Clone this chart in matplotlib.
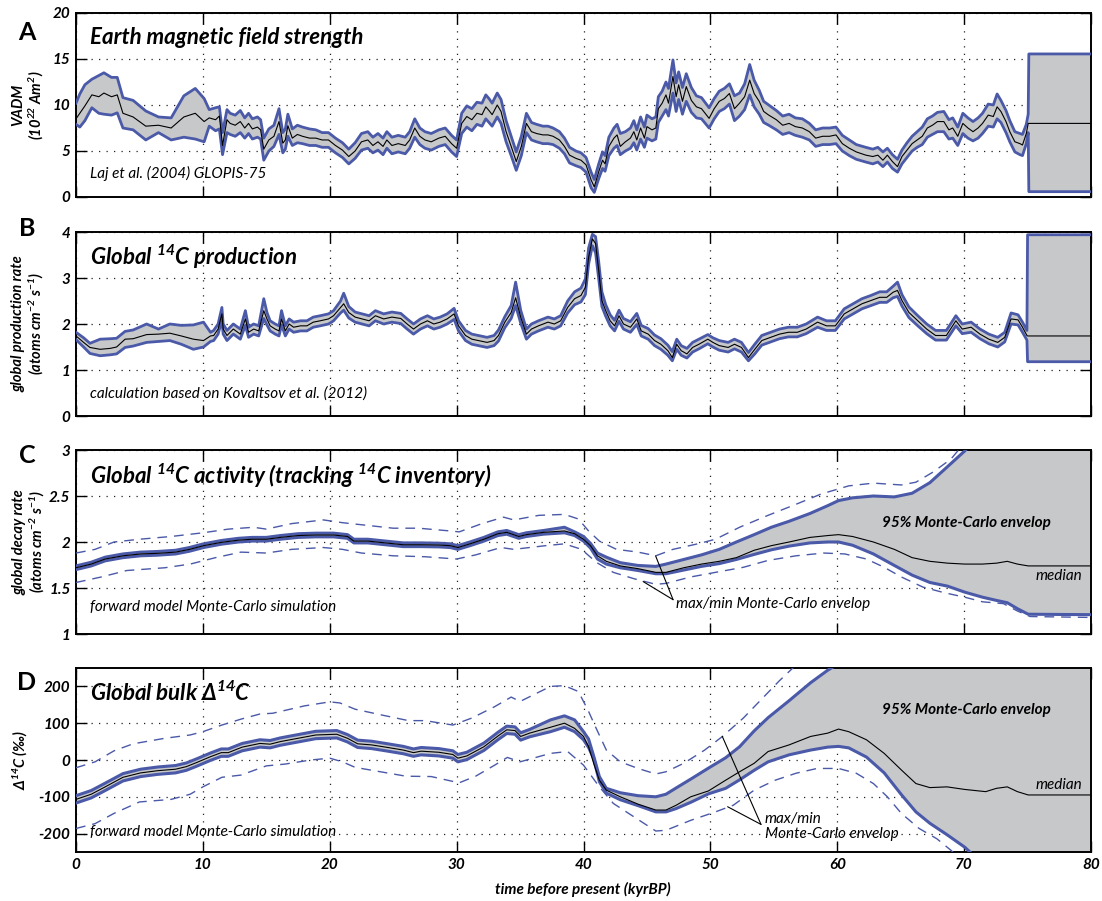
import matplotlib.pyplot as plt

plt.rcParams["font.family"] = ["Lato", "DejaVu Sans"]
plt.rcParams["mathtext.default"] = "regular"

BLUE = "#4a59a8"
GREY = "#c7c8ca"

# ---- A: VADM (Laj et al. 2004, GLOPIS-75)
vadm_t = [0.0, 0.3, 0.7, 1.25, 1.8, 2.2, 2.8, 3.25, 3.7, 4.5,
          5.5, 6.5, 7.5, 8.5, 9.4, 10.1, 10.5, 11.0, 11.3, 11.55,
          11.9, 12.15, 12.55, 12.95, 13.3, 13.6, 13.9, 14.3, 14.55, 14.8,
          15.2, 15.6, 16.0, 16.3, 16.5, 16.7, 17.05, 17.45, 17.85, 18.4,
          18.9, 19.4, 19.9, 20.45, 21.0, 21.5, 22.0, 22.5, 23.0, 23.4,
          23.8, 24.2, 24.5, 24.9, 25.4, 25.95, 26.3, 26.7, 27.1, 27.5,
          28.0, 28.6, 29.1, 29.6, 30.0, 30.4, 30.8, 31.2, 31.6, 32.0,
          32.3, 32.55, 32.8, 33.2, 33.5, 33.9, 34.3, 34.7, 35.1, 35.5,
          35.9, 36.3, 36.8, 37.2, 37.6, 38.1, 38.5, 38.9, 39.4, 39.8,
          40.2, 40.6, 40.85, 41.2, 41.5, 41.7, 42.0, 42.4, 42.65, 42.9,
          43.3, 43.7, 43.97, 44.2, 44.5, 44.8, 45.0, 45.4, 45.7, 45.9,
          46.2, 46.5, 46.7, 47.05, 47.3, 47.5, 47.8, 48.1, 48.5, 48.9,
          49.3, 49.9, 50.3, 50.7, 51.1, 51.5, 51.9, 52.3, 52.7, 53.1,
          53.45, 53.85, 54.2, 54.6, 55.2, 55.7, 56.2, 56.7, 57.25, 57.8,
          58.3, 58.85, 59.4, 59.9, 60.4, 60.95, 61.5, 62.25, 62.8, 63.2,
          63.6, 63.95, 64.35, 64.75, 65.1, 65.5, 65.9, 66.3, 66.7, 67.1,
          67.5, 67.9, 68.4, 68.8, 69.1, 69.5, 69.9, 70.3, 70.7, 71.1,
          71.45, 71.9, 72.3, 72.6, 72.9, 73.3, 73.6, 74.0, 74.4, 74.6,
          74.9, 75.05, 75.1, 80.0]
vadm_med = [8.5, 9.1, 9.9, 11.1, 10.9, 11.3, 10.9, 11.1, 9.1, 8.7,
            7.7, 7.8, 7.5, 8.7, 9.1, 8.2, 8.6, 8.4, 8.8, 5.6,
            8.4, 8.0, 7.8, 8.2, 7.5, 8.0, 7.4, 7.6, 7.3, 5.2,
            6.2, 6.6, 8.2, 5.85, 6.2, 7.75, 6.4, 6.8, 6.6, 6.4,
            6.4, 6.2, 6.2, 5.6, 5.1, 4.4, 5.0, 6.0, 6.2, 5.6,
            6.0, 5.5, 6.2, 5.6, 5.8, 5.6, 6.2, 7.5, 6.6, 6.2,
            6.0, 6.4, 6.6, 5.8, 5.3, 8.0, 8.75, 8.4, 9.1, 8.95,
            9.8, 9.4, 8.95, 10.0, 9.3, 7.1, 5.5, 3.85, 5.5, 8.0,
            7.1, 6.9, 6.75, 6.75, 6.6, 6.2, 5.5, 4.55, 4.2, 4.0,
            3.5, 1.85, 1.1, 2.75, 4.0, 3.6, 5.5, 6.4, 6.75, 5.5,
            6.0, 6.4, 7.1, 6.2, 7.5, 6.4, 7.65, 7.3, 7.5, 9.6,
            10.2, 11.1, 10.2, 13.1, 10.9, 12.2, 10.4, 12.0, 10.5, 9.8,
            9.6, 8.55, 9.6, 10.4, 10.7, 11.25, 9.6, 10.2, 10.9, 12.7,
            11.25, 10.4, 9.3, 8.9, 8.4, 7.8, 8.0, 7.65, 7.5, 7.1,
            6.4, 6.6, 6.6, 6.75, 5.8, 5.3, 4.9, 4.55, 4.4, 4.55,
            4.0, 4.55, 3.85, 3.3, 4.4, 5.1, 5.8, 6.2, 6.6, 7.5,
            7.8, 8.2, 8.2, 7.3, 7.5, 6.6, 8.0, 7.5, 7.1, 7.5,
            8.0, 8.9, 8.75, 9.8, 9.3, 8.2, 7.1, 6.0, 5.8, 5.65,
            6.9, 8.0, 8.0, 8.0]
vadm_lo = [7.9, 7.6, 8.3, 9.7, 9.1, 9.0, 8.9, 9.15, 7.5, 7.3,
           6.2, 7.0, 6.2, 6.5, 6.3, 6.0, 7.7, 7.2, 7.4, 4.6,
           7.0, 6.8, 6.6, 7.0, 6.4, 6.9, 6.3, 6.5, 6.3, 4.0,
           5.0, 5.5, 6.8, 4.8, 5.2, 6.6, 5.6, 5.9, 5.8, 5.6,
           5.6, 5.4, 5.4, 4.8, 4.3, 3.6, 4.2, 5.1, 5.3, 4.8,
           5.1, 4.6, 5.3, 4.7, 4.9, 4.7, 5.3, 6.5, 5.7, 5.3,
           5.1, 5.5, 5.7, 4.9, 4.4, 6.9, 7.6, 7.2, 7.9, 7.7,
           8.5, 8.1, 7.7, 8.7, 8.0, 6.0, 4.5, 2.9, 4.5, 7.0,
           6.2, 6.0, 5.8, 5.8, 5.7, 5.3, 4.7, 3.7, 3.4, 3.2,
           2.7, 1.0, 0.5, 2.0, 3.1, 2.8, 4.5, 5.3, 5.6, 4.6,
           5.0, 5.3, 5.9, 5.1, 6.3, 5.4, 6.4, 6.1, 6.3, 8.1,
           8.8, 9.5, 8.8, 11.3, 9.3, 10.6, 9.0, 10.4, 9.2, 8.6,
           8.5, 7.5, 8.5, 9.3, 9.6, 10.1, 8.3, 8.8, 9.5, 11.1,
           9.8, 9.0, 8.1, 7.8, 7.3, 6.8, 7.0, 6.7, 6.5, 6.2,
           5.5, 5.7, 5.7, 5.8, 5.0, 4.5, 4.1, 3.8, 3.6, 3.8,
           3.3, 3.8, 3.1, 2.7, 3.6, 4.3, 5.0, 5.4, 5.7, 6.5,
           6.8, 7.1, 7.1, 6.3, 6.4, 5.6, 6.9, 6.4, 6.1, 6.4,
           6.9, 7.7, 7.6, 8.5, 8.1, 7.0, 6.0, 4.9, 4.6, 4.5,
           5.8, 7.0, 0.58, 0.58]
vadm_hi = [10.2, 11.2, 12.2, 12.8, 13.2, 13.5, 13.0, 13.0, 10.8, 10.5,
           9.35, 8.7, 8.6, 11.0, 11.8, 10.7, 9.5, 9.7, 9.8, 7.0,
           9.5, 9.1, 8.9, 9.4, 8.6, 9.1, 8.5, 8.7, 8.4, 6.4,
           7.4, 7.8, 9.6, 7.0, 7.4, 9.0, 7.4, 7.8, 7.6, 7.4,
           7.3, 7.0, 7.0, 6.4, 5.9, 5.2, 5.9, 6.9, 7.1, 6.5,
           6.9, 6.4, 7.1, 6.5, 6.7, 6.5, 7.1, 8.5, 7.5, 7.1,
           6.9, 7.3, 7.5, 6.7, 6.2, 9.1, 9.9, 9.6, 10.3, 10.2,
           11.1, 10.7, 10.2, 11.3, 10.6, 8.3, 6.6, 4.9, 6.6, 9.1,
           8.1, 7.9, 7.7, 7.7, 7.5, 7.1, 6.4, 5.4, 5.0, 4.8,
           4.3, 2.7, 1.9, 3.6, 4.9, 4.5, 6.5, 7.5, 7.9, 6.9,
           7.1, 7.5, 8.3, 7.3, 8.7, 7.6, 8.9, 8.5, 8.7, 10.9,
           11.5, 12.5, 11.8, 14.9, 12.4, 13.6, 11.9, 13.4, 11.9, 11.0,
           10.8, 9.7, 10.7, 11.5, 11.8, 12.3, 11.0, 11.3, 12.3, 14.4,
           12.7, 11.6, 10.4, 10.0, 9.4, 8.8, 9.0, 8.6, 8.5, 8.0,
           7.3, 7.5, 7.5, 7.6, 6.7, 6.2, 5.7, 5.4, 5.2, 5.4,
           4.9, 5.3, 4.6, 4.1, 5.1, 5.9, 6.6, 7.1, 7.6, 8.5,
           8.8, 9.2, 9.3, 8.4, 8.6, 7.6, 9.1, 8.6, 8.2, 8.6,
           9.1, 10.1, 10.0, 11.2, 10.5, 9.4, 8.3, 7.1, 6.9, 6.8,
           7.9, 9.0, 15.55, 15.55]

# ---- B: global 14C production rate
prod_t = [0.0, 0.6, 1.1, 1.9, 2.7, 3.2, 3.87, 4.5, 5.57, 6.5,
          7.4, 8.3, 9.25, 10.05, 10.6, 10.85, 11.2, 11.5, 11.6, 11.9,
          12.4, 12.95, 13.35, 13.6, 14.0, 14.4, 14.8, 15.05, 15.3, 15.7,
          16.0, 16.2, 16.5, 16.8, 17.15, 17.7, 18.2, 18.7, 19.25, 19.9,
          20.3, 20.85, 21.1, 21.5, 22.0, 22.55, 23.1, 23.6, 24.25, 24.9,
          25.6, 26.1, 26.6, 27.15, 27.7, 28.2, 28.7, 29.25, 29.8, 30.15,
          30.7, 31.2, 31.7, 32.4, 32.95, 33.3, 33.8, 34.3, 34.65, 35.05,
          35.5, 35.9, 36.45, 37.2, 37.7, 38.2, 38.75, 39.3, 39.8, 40.15,
          40.4, 40.7, 40.95, 41.2, 41.45, 41.75, 42.1, 42.45, 42.8, 43.15,
          43.7, 44.2, 44.55, 45.1, 45.6, 46.1, 46.65, 47.0, 47.35, 47.7,
          48.15, 48.6, 49.1, 49.8, 50.2, 50.7, 51.4, 51.9, 52.45, 53.0,
          53.5, 54.05, 54.75, 55.45, 56.15, 56.85, 57.55, 58.45, 59.15, 59.85,
          60.55, 61.25, 61.95, 62.65, 63.35, 63.9, 64.4, 64.75, 65.1, 65.65,
          66.35, 67.05, 67.75, 68.6, 69.35, 69.85, 70.55, 71.25, 71.95, 72.65,
          73.2, 73.7, 74.25, 74.6, 74.95, 75.0, 80.0]
prod_med = [1.74, 1.60, 1.49, 1.45, 1.47, 1.50, 1.67, 1.68, 1.77, 1.78,
            1.80, 1.74, 1.67, 1.64, 1.74, 1.75, 1.89, 2.22, 1.89, 1.75,
            1.89, 1.78, 2.11, 1.82, 1.89, 1.85, 2.29, 2.11, 1.96, 1.89,
            1.85, 2.11, 1.85, 2.0, 1.93, 1.96, 1.96, 2.04, 2.07, 2.11,
            2.18, 2.36, 2.44, 2.25, 2.15, 2.11, 2.07, 2.18, 2.11, 2.15,
            2.12, 2.0, 1.89, 2.0, 2.07, 2.0, 2.04, 2.11, 2.22, 1.96,
            1.75, 1.67, 1.64, 1.60, 1.64, 1.75, 2.04, 2.25, 2.57, 2.15,
            1.78, 1.89, 1.96, 2.04, 2.0, 2.07, 2.36, 2.55, 2.62, 2.8,
            3.45, 3.85, 3.75, 3.16, 2.51, 2.29, 2.07, 1.96, 2.18, 2.0,
            1.93, 2.11, 1.85, 1.78, 1.64, 1.56, 1.42, 1.27, 1.56, 1.42,
            1.35, 1.49, 1.56, 1.67, 1.60, 1.53, 1.49, 1.56, 1.49, 1.27,
            1.45, 1.64, 1.71, 1.78, 1.82, 1.82, 1.89, 2.04, 1.96, 1.96,
            2.22, 2.33, 2.44, 2.51, 2.58, 2.58, 2.69, 2.73, 2.51, 2.25,
            2.07, 1.89, 1.75, 1.75, 2.07, 1.89, 1.93, 1.78, 1.67, 1.60,
            1.71, 2.11, 2.09, 1.93, 1.75, 1.74, 1.74]
prod_lo = [1.66, 1.50, 1.36, 1.31, 1.33, 1.35, 1.49, 1.52, 1.60, 1.62,
           1.64, 1.56, 1.45, 1.50, 1.62, 1.64, 1.78, 2.08, 1.78, 1.64,
           1.78, 1.67, 1.97, 1.71, 1.78, 1.74, 2.12, 1.98, 1.85, 1.78,
           1.74, 1.98, 1.74, 1.89, 1.82, 1.85, 1.85, 1.93, 1.96, 2.0,
           2.07, 2.24, 2.30, 2.13, 2.04, 2.0, 1.96, 2.07, 2.0, 2.04,
           2.01, 1.89, 1.78, 1.89, 1.96, 1.89, 1.93, 2.0, 2.10, 1.85,
           1.64, 1.56, 1.53, 1.49, 1.53, 1.63, 1.92, 2.12, 2.40, 2.02,
           1.67, 1.78, 1.85, 1.93, 1.89, 1.96, 2.24, 2.42, 2.48, 2.64,
           3.30, 3.70, 3.55, 2.98, 2.38, 2.17, 1.96, 1.85, 2.06, 1.89,
           1.82, 1.99, 1.74, 1.67, 1.53, 1.45, 1.32, 1.20, 1.45, 1.32,
           1.26, 1.39, 1.46, 1.57, 1.50, 1.43, 1.39, 1.46, 1.39, 1.20,
           1.35, 1.54, 1.61, 1.68, 1.72, 1.72, 1.79, 1.93, 1.86, 1.86,
           2.11, 2.22, 2.33, 2.40, 2.47, 2.47, 2.57, 2.60, 2.39, 2.14,
           1.96, 1.79, 1.65, 1.65, 1.96, 1.79, 1.82, 1.68, 1.57, 1.50,
           1.61, 2.0, 1.98, 1.82, 1.65, 1.18, 1.18]
prod_hi = [1.82, 1.70, 1.58, 1.67, 1.68, 1.69, 1.84, 1.87, 2.0, 1.89,
           2.0, 1.97, 1.98, 2.04, 1.82, 1.86, 2.0, 2.36, 2.0, 1.86,
           2.0, 1.89, 2.29, 1.93, 2.0, 1.96, 2.55, 2.25, 2.07, 2.0,
           1.96, 2.29, 1.96, 2.11, 2.04, 2.07, 2.07, 2.15, 2.18, 2.22,
           2.29, 2.50, 2.67, 2.38, 2.26, 2.22, 2.18, 2.29, 2.22, 2.26,
           2.23, 2.11, 2.0, 2.11, 2.18, 2.11, 2.15, 2.22, 2.34, 2.07,
           1.86, 1.78, 1.75, 1.71, 1.75, 1.87, 2.16, 2.40, 2.91, 2.30,
           1.89, 2.0, 2.07, 2.15, 2.11, 2.18, 2.50, 2.70, 2.78, 2.98,
           3.65, 3.95, 3.90, 3.35, 2.70, 2.42, 2.20, 2.08, 2.30, 2.12,
           2.05, 2.23, 1.97, 1.90, 1.76, 1.68, 1.54, 1.40, 1.67, 1.53,
           1.47, 1.60, 1.67, 1.77, 1.70, 1.64, 1.60, 1.67, 1.60, 1.38,
           1.56, 1.75, 1.82, 1.89, 1.93, 1.93, 2.0, 2.15, 2.07, 2.07,
           2.33, 2.44, 2.55, 2.62, 2.70, 2.70, 2.82, 2.91, 2.64, 2.37,
           2.18, 2.0, 1.86, 1.86, 2.18, 2.0, 2.04, 1.89, 1.78, 1.71,
           1.82, 2.24, 2.20, 2.04, 1.86, 3.94, 3.94]

# ---- C: global 14C decay rate (Monte-Carlo median / 95% / max-min)
act_t = [0, 1.2, 2.3, 3.7, 5.1, 6.45, 7.85, 8.95, 10.05, 11.45,
         12.8, 13.9, 15.0, 16.1, 17.5, 18.9, 20.3, 21.4, 21.9, 23.0,
         24.4, 25.8, 27.2, 28.6, 29.5, 30.1, 31.05, 32.15, 33.25, 33.95,
         34.9, 35.5, 36.85, 38.5, 39.3, 40.0, 40.55, 41.1, 41.8, 42.9,
         44.3, 45.7, 46.5, 47.9, 49.3, 50.7, 52.05, 53.45, 54.8, 56.2,
         57.85, 59.25, 60.1, 61.2, 62.85, 64.5, 65.9, 67.3, 68.7, 70.05,
         71.45, 72.55, 73.4, 74.2, 75.05, 80.0]
act_med = [1.72, 1.76, 1.815, 1.85, 1.87, 1.877, 1.89, 1.92, 1.96, 1.996,
           2.02, 2.03, 2.03, 2.05, 2.07, 2.076, 2.076, 2.06, 2.01, 2.01,
           1.99, 1.97, 1.97, 1.967, 1.96, 1.94, 1.98, 2.03, 2.09, 2.105,
           2.06, 2.08, 2.105, 2.12, 2.09, 2.03, 1.96, 1.85, 1.79, 1.74,
           1.71, 1.67, 1.67, 1.72, 1.76, 1.79, 1.83, 1.91, 1.96, 2.0,
           2.05, 2.07, 2.08, 2.06, 2.0, 1.92, 1.83, 1.79, 1.77, 1.76,
           1.76, 1.77, 1.79, 1.76, 1.74, 1.74]
act_lo = [1.70, 1.74, 1.795, 1.83, 1.85, 1.857, 1.87, 1.90, 1.94, 1.976,
          2.0, 2.01, 2.01, 2.03, 2.05, 2.056, 2.056, 2.04, 1.99, 1.99,
          1.97, 1.95, 1.95, 1.947, 1.94, 1.92, 1.96, 2.01, 2.07, 2.085,
          2.04, 2.06, 2.085, 2.10, 2.07, 2.01, 1.935, 1.815, 1.76, 1.72,
          1.69, 1.655, 1.655, 1.695, 1.735, 1.765, 1.81, 1.865, 1.915, 1.955,
          1.99, 2.0, 2.0, 1.965, 1.87, 1.745, 1.64, 1.56, 1.52, 1.455,
          1.40, 1.365, 1.34, 1.275, 1.215, 1.21]
act_hi = [1.74, 1.78, 1.835, 1.87, 1.89, 1.897, 1.91, 1.94, 1.98, 2.016,
          2.04, 2.05, 2.05, 2.07, 2.09, 2.096, 2.096, 2.08, 2.03, 2.03,
          2.01, 1.99, 1.99, 1.987, 1.98, 1.96, 2.0, 2.05, 2.11, 2.125,
          2.08, 2.10, 2.125, 2.16, 2.11, 2.06, 1.985, 1.88, 1.835, 1.775,
          1.745, 1.735, 1.76, 1.81, 1.86, 1.92, 2.0, 2.08, 2.16, 2.225,
          2.31, 2.395, 2.45, 2.48, 2.5, 2.49, 2.53, 2.645, 2.82, 2.99,
          3.2, 3.4, 3.55, 3.7, 3.85, 4.2]
act_max_t = [0, 1.5, 3, 5, 7.5, 10, 12, 14, 15, 17,
             19.5, 21, 23, 25, 27, 29.5, 30.2, 32, 33.7, 34.5,
             36.5, 38.5, 39.6, 40.4, 41.25, 42.6, 44.3, 45.7, 47.05, 49.0,
             50.4, 52.3, 54.55, 56.75, 58.7, 60.9, 62.85, 65.05, 66.2, 67.55,
             68.95, 69.5, 70.5]
act_max = [1.88, 1.92, 2.0, 2.03, 2.06, 2.10, 2.14, 2.16, 2.14, 2.20,
           2.24, 2.21, 2.18, 2.15, 2.15, 2.12, 2.11, 2.20, 2.27, 2.24,
           2.29, 2.30, 2.25, 2.12, 2.01, 1.92, 1.89, 1.85, 1.92, 1.98,
           2.03, 2.16, 2.29, 2.41, 2.52, 2.61, 2.64, 2.62, 2.65, 2.76,
           2.90, 2.99, 3.2]
act_min_t = [0, 2, 4, 7, 9, 11, 13, 15, 17, 19.5,
             21, 22.5, 25, 27.5, 30, 31.5, 33.5, 34.5, 37, 38.5,
             39.85, 41.0, 42.35, 44.0, 45.7, 46.5, 48.45, 50.4, 52.6, 54.55,
             56.75, 58.95, 60.6, 62.3, 63.7, 65.05, 66.75, 68.4, 70.05, 71.45,
             73.1, 74.2, 75.2, 80]
act_min = [1.56, 1.62, 1.69, 1.72, 1.76, 1.83, 1.89, 1.88, 1.92, 1.94,
           1.92, 1.88, 1.85, 1.84, 1.815, 1.86, 1.94, 1.92, 1.96, 1.98,
           1.92, 1.78, 1.67, 1.60, 1.54, 1.55, 1.62, 1.67, 1.725, 1.80,
           1.85, 1.88, 1.87, 1.815, 1.725, 1.62, 1.51, 1.45, 1.40, 1.35,
           1.33, 1.25, 1.19, 1.18]

# ---- D: global bulk Delta14C (permil)
d14_t = [0, 1.2, 2.3, 3.7, 5.1, 6.45, 7.85, 8.7, 9.5, 10.6,
         11.45, 12.0, 13.1, 14.5, 15.3, 16.1, 17.5, 18.9, 20.55, 21.4,
         22.2, 23.3, 24.4, 25.8, 26.6, 27.2, 28.6, 29.7, 30.1, 30.8,
         32.15, 33.25, 33.95, 34.6, 35.05, 35.75, 37.4, 38.5, 39.3, 40.0,
         40.4, 40.8, 41.25, 41.8, 42.9, 44.3, 45.7, 46.5, 47.3, 48.45,
         49.85, 51.2, 52.3, 53.45, 54.55, 56.2, 57.9, 59.25, 60.1, 60.9,
         62.3, 63.7, 65.05, 66.2, 67.3, 68.65, 70.05, 71.7, 72.55, 73.4,
         74.2, 75.05, 80]
d14_med = [-107, -93, -73, -47, -35, -29, -25, -18, -7, 9,
           20, 20, 35, 45, 43, 50, 59, 68, 70, 59,
           44, 41, 35, 27, 20, 24, 21, 15, 5, 11,
           36, 65, 82, 80, 64, 73, 89, 100, 86, 64,
           36, -9, -55, -82, -100, -120, -136, -136, -123, -100,
           -84, -55, -32, -9, 23, 41, 64, 73, 84, 77,
           55, 18, -27, -64, -75, -73, -80, -86, -77, -73,
           -86, -95, -95]
d14_lo = [-117, -103, -83, -57, -45, -39, -35, -28, -17, -1,
          10, 10, 25, 35, 33, 40, 49, 58, 60, 49,
          34, 31, 25, 17, 10, 14, 11, 5, -5, 1,
          26, 55, 72, 70, 54, 63, 77, 89, 77, 55,
          34, 4, -59, -90, -108, -124, -141, -141, -132, -115,
          -92, -77, -54, -28, -5, 14, 27, 35, 37, 33,
          8, -35, -94, -141, -172, -203, -237, -290, -310, -330,
          -350, -370, -450]
d14_hi = [-97, -83, -63, -37, -25, -19, -15, -8, 3, 19,
          30, 30, 45, 55, 53, 60, 69, 78, 80, 69,
          54, 51, 45, 37, 30, 34, 31, 25, 15, 21,
          46, 75, 92, 90, 74, 83, 109, 120, 109, 77,
          57, 11, -45, -77, -89, -97, -100, -93, -76, -52,
          -22, 6, 36, 79, 115, 161, 210, 244, 262, 290,
          330, 360, 400, 420, 440, 450, 460, 470, 480, 490,
          500, 510, 520]
d14_max_t = [0, 1.5, 3, 4.5, 7, 9, 10, 11.5, 13, 14.5,
             15.5, 16.5, 18, 20, 20.8, 22, 24, 26.2, 27.5, 29.7,
             31.2, 33, 34.3, 35, 37.4, 38.5, 39.6, 40.4, 41.0, 41.8,
             42.9, 44.3, 45.7, 46.5, 47.9, 49.55, 50.95, 52.6, 54.0, 55.4,
             56.5, 57.5]
d14_max = [-21, -5, 25, 44, 59, 68, 77, 95, 111, 125,
           127, 135, 147, 158, 155, 138, 123, 107, 107, 95,
           114, 145, 171, 159, 200, 202, 186, 132, 86, 27,
           -5, -23, -38, -32, -9, 27, 64, 114, 164, 214,
           250, 290]
d14_min_t = [0, 1.5, 3, 5, 7.5, 9, 10, 11.5, 13, 15,
             16.5, 18.5, 20, 21, 22, 24, 26, 28, 30.2, 31.5,
             33, 34, 35, 37.4, 38.75, 40.0, 41.25, 42.35, 44.0, 45.7,
             46.5, 48.45, 50.4, 51.8, 53.45, 55.1, 56.75, 58.4, 60.1, 61.5,
             62.85, 63.95, 65.05, 66.45, 67.85, 68.95, 70.0]
d14_min = [-186, -173, -145, -114, -107, -93, -73, -47, -41, -16,
           -11, 0, 5, -5, -20, -32, -44, -45, -62, -44,
           -14, 7, -5, 18, 23, -14, -73, -118, -155, -193,
           -191, -164, -141, -123, -82, -55, -36, -23, -23, -36,
           -64, -100, -145, -186, -214, -245, -280]


BI = dict(fontweight="bold", fontstyle="italic")


def style_axes(ax, ylim, yticks, ylabels):
    ax.set_xlim(0, 80)
    ax.set_ylim(*ylim)
    ax.set_xticks(range(0, 81, 10))
    ax.set_yticks(yticks)
    ax.set_yticklabels(ylabels, **BI)
    ax.tick_params(direction="in", top=True, right=True, length=8, width=1,
                   labelsize=11, pad=4)
    ax.grid(True, linestyle=(0, (1, 5)), color="#222222", lw=0.9)
    for sp in ax.spines.values():
        sp.set_linewidth(1.4)


def draw_band(ax, t, med, lo, hi, lw_env=2.0):
    ax.fill_between(t, lo, hi, color=GREY, lw=0, zorder=2)
    ax.plot(t, lo, color=BLUE, lw=lw_env, zorder=4, solid_joinstyle="round")
    ax.plot(t, hi, color=BLUE, lw=lw_env, zorder=4, solid_joinstyle="round")
    ax.plot(t, med, color="black", lw=0.8, zorder=5)


fig = plt.figure(figsize=(11.02, 9.01), dpi=100)
W_PX, H_PX = 1102, 901
left, width, height = 76 / W_PX, 1015 / W_PX, 184 / H_PX
tops = [13, 232, 450, 668]
axes = [fig.add_axes([left, 1 - (tp + 184) / H_PX, width, height]) for tp in tops]
axA, axB, axC, axD = axes

# A
style_axes(axA, (0, 20), [0, 5, 10, 15, 20], ["0", "5", "10", "15", "20"])
draw_band(axA, vadm_t, vadm_med, vadm_lo, vadm_hi)
axA.text(1.1, 17.3, "Earth magnetic field strength", fontsize=16, va="center", **BI)
axA.text(1.1, 2.6, "Laj et al. (2004) GLOPIS-75", fontsize=11, va="center",
         fontstyle="italic")
axA.text(-0.047, 0.5, "VADM\n($\\mathregular{10^{22}}$ Am$\\mathregular{^2}$)",
         transform=axA.transAxes, rotation=90, ha="center", va="center",
         fontsize=10.5, linespacing=1.1, **BI)

# B
style_axes(axB, (0, 4), [0, 1, 2, 3, 4], ["0", "1", "2", "3", "4"])
draw_band(axB, prod_t, prod_med, prod_lo, prod_hi)
axB.text(1.1, 3.46, "Global $\\mathregular{^{14}}$C production", fontsize=16,
         va="center", **BI)
axB.text(1.1, 0.48, "calculation based on Kovaltsov et al. (2012)", fontsize=11,
         va="center", fontstyle="italic")
axB.text(-0.047, 0.5,
         "global production rate\n(atoms cm$\\mathregular{^{-2}}$ s$\\mathregular{^{-1}}$)",
         transform=axB.transAxes, rotation=90, ha="center", va="center",
         fontsize=10.5, linespacing=1.1, **BI)

# C
style_axes(axC, (1, 3), [1, 1.5, 2, 2.5, 3], ["1", "1.5", "2", "2.5", "3"])
axC.plot(act_max_t, act_max, color=BLUE, lw=1.0, ls=(0, (7, 5)), zorder=3)
axC.plot(act_min_t, act_min, color=BLUE, lw=1.0, ls=(0, (7, 5)), zorder=3)
draw_band(axC, act_t, act_med, act_lo, act_hi, lw_env=2.2)
axC.text(1.1, 2.72, "Global $\\mathregular{^{14}}$C activity (tracking "
         "$\\mathregular{^{14}}$C inventory)", fontsize=16, va="center", **BI)
axC.text(1.1, 1.29, "forward model Monte-Carlo simulation", fontsize=11,
         va="center", fontstyle="italic")
axC.text(70.2, 2.21, "95% Monte-Carlo envelop", fontsize=11, ha="center",
         va="center", zorder=6, **BI)
axC.text(79.3, 1.63, "median", fontsize=11, ha="right", va="center",
         fontstyle="italic", zorder=6)
axC.text(47.3, 1.33, "max/min Monte-Carlo envelop", fontsize=11, ha="left",
         va="center", fontstyle="italic", zorder=6)
for end in [(45.68, 1.85), (44.7, 1.57)]:
    axC.annotate("", xy=end, xytext=(47.06, 1.373),
                 arrowprops=dict(arrowstyle="-", color="black", lw=0.8,
                                 shrinkA=0, shrinkB=0), zorder=6)
axC.text(-0.046, 0.5,
         "global decay rate\n(atoms cm$\\mathregular{^{-2}}$ s$\\mathregular{^{-1}}$)",
         transform=axC.transAxes, rotation=90, ha="center", va="center",
         fontsize=10.5, linespacing=1.1, **BI)

# D
style_axes(axD, (-250, 250), [-200, -100, 0, 100, 200],
           ["-200", "-100", "0", "100", "200"])
axD.plot(d14_max_t, d14_max, color=BLUE, lw=1.0, ls=(0, (7, 5)), zorder=3)
axD.plot(d14_min_t, d14_min, color=BLUE, lw=1.0, ls=(0, (7, 5)), zorder=3)
draw_band(axD, d14_t, d14_med, d14_lo, d14_hi, lw_env=2.2)
axD.text(1.1, 182, "Global bulk Δ$\\mathregular{^{14}}$C", fontsize=16, va="center", **BI)
axD.text(1.1, -195, "forward model Monte-Carlo simulation", fontsize=11,
         va="center", fontstyle="italic")
axD.text(70.2, 136, "95% Monte-Carlo envelop", fontsize=11, ha="center",
         va="center", zorder=6, **BI)
axD.text(79.3, -68, "median", fontsize=11, ha="right", va="center",
         fontstyle="italic", zorder=6)
axD.text(54.3, -180, "max/min\nMonte-Carlo envelop", fontsize=11, ha="left",
         va="center", fontstyle="italic", linespacing=1.05, zorder=6)
for end in [(50.94, 64), (51.36, -127)]:
    axD.annotate("", xy=end, xytext=(53.99, -175),
                 arrowprops=dict(arrowstyle="-", color="black", lw=0.8,
                                 shrinkA=0, shrinkB=0), zorder=6)
axD.text(-0.055, 0.5, "Δ$\\mathregular{^{14}}$C (‰)", transform=axD.transAxes,
         rotation=90, ha="center", va="center", fontsize=10.5, **BI)
axD.set_xticklabels([str(v) for v in range(0, 81, 10)], **BI)

for ax in (axA, axB, axC):
    ax.tick_params(labelbottom=False)

for letter, y_px in zip("ABCD", [32, 228, 456, 683]):
    fig.text(27 / W_PX, 1 - y_px / H_PX, letter, fontsize=18, fontweight="bold",
             ha="center", va="center")

fig.text(583 / W_PX, 1 - 889 / H_PX, "time before present (kyrBP)", fontsize=11,
         ha="center", va="center", **BI)

fig.savefig("out.png", dpi=100)
plt.close(fig)
